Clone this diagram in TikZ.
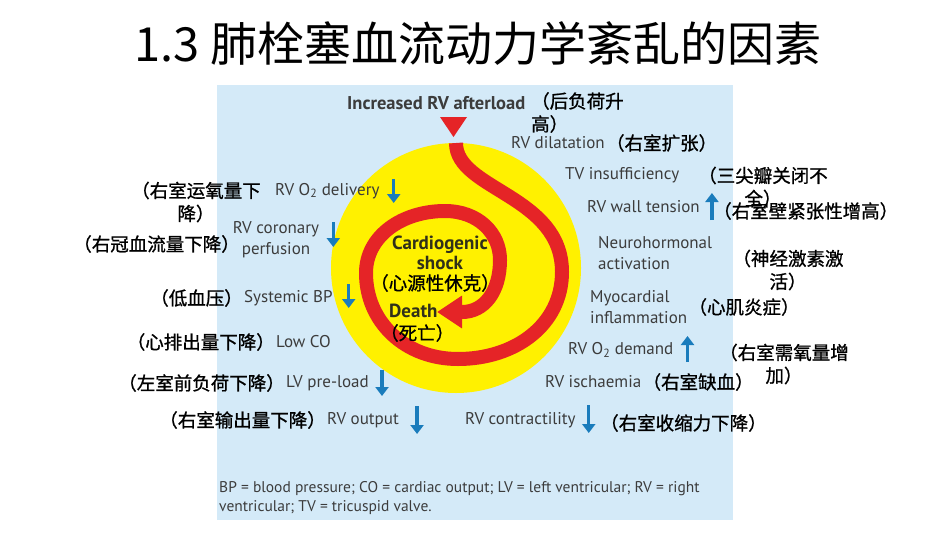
\documentclass[tikz,border=0pt]{standalone}
\usepackage{fontspec}
\setmainfont{PT Sans}
\newfontfamily\cjk[FakeBold=1]{Noto Sans CJK SC}
\newfontfamily\cjktitle{Noto Sans CJK SC}
\usepackage{xcolor}
\definecolor{panel}{HTML}{D4EAF8}
\definecolor{sun}{HTML}{FFF100}
\definecolor{blood}{HTML}{E52427}
\definecolor{ink}{HTML}{3C3C3C}
\definecolor{core}{HTML}{30301A}
\definecolor{trend}{HTML}{1A7CBC}
\usetikzlibrary{positioning, arrows.meta, calc}

\begin{document}
\begin{tikzpicture}[x=1pt, y=-1pt, node distance=1pt]
        % Define block styles
        \tikzstyle{lbl} = [text=ink, font=\fontsize{17}{21}\selectfont, inner sep=0pt, align=left]
        \tikzstyle{key} = [text=core, font=\bfseries\fontsize{19}{20}\selectfont, inner sep=0pt, align=center]
        \tikzstyle{zh} = [text=black, font=\cjk\fontsize{18.5}{23}\selectfont, inner sep=0pt, align=center]
        \tikzstyle{trendarr} = [draw=trend, line width=3.2pt, -{Triangle[length=9pt, width=13pt]}]
        \tikzstyle{spiral} = [draw=blood, line width=14pt, -{Triangle[length=25pt, width=31pt]}]

        \useasboundingbox (0,0) rectangle (950,535);

        % Background
        \fill[panel] (217,85) rectangle (733,520);
        \fill[sun] (456,268) circle (125pt);
        \fill[blood] (440,117) -- (467,117) -- (453.5,137) -- cycle;
        \draw[spiral] (456,143) .. controls (456,190) and (562,195) .. (562,272)
            .. controls (562,325) and (515,359) .. (458,359)
            .. controls (405,359) and (366,322) .. (366,273)
            .. controls (366,236) and (402,211) .. (445,211)
            .. controls (478,211) and (500,233) .. (500,260)
            .. controls (500,292) and (484,312) .. (462,312) -- (437,312);

        % Title
        \node[font=\cjktitle\fontsize{47}{52}\selectfont, inner sep=0pt] (title) at (478,44) {1.3 肺栓塞血流动力学紊乱的因素};

        % Top
        \node[lbl, font=\bfseries\fontsize{18.5}{21}\selectfont, anchor=west] (afterload) at (347,103) {Increased RV afterload};
        \node[zh, align=left, anchor=north west] (afterloadzh) at (531,92) {（后负荷升\\高）};

        % Right side
        \node[lbl, anchor=west] (dilat) at (511,143) {RV dilatation};
        \node[zh, right=of dilat] (dilatzh) {（右室扩张）};
        \node[lbl, anchor=west] (tvins) at (565,175) {TV insufficiency};
        \node[zh] (tvinszh) at (763,187) {（三尖瓣关闭不\\全）};
        \node[lbl, anchor=west] (wall) at (587,207) {RV wall tension};
        \node[zh, anchor=west] (wallzh) at (713,211) {（右室壁紧张性增高）};
        \node[lbl, anchor=west] (neuro) at (598,253) {Neurohormonal\\activation};
        \node[zh] (neurozh) at (788,270) {（神经激素激\\活）};
        \node[lbl, anchor=west] (myo) at (590,307) {Myocardial\\inflammation};
        \node[zh, right=of myo] (myozh) {（心肌炎症）};
        \node[lbl, anchor=west] (demand) at (568,350) {RV O\textsubscript{2} demand};
        \node[zh] (demandzh) at (784,364) {（右室需氧量增\\加）};
        \node[lbl, anchor=west] (isch) at (545,382) {RV ischaemia};
        \node[zh, right=of isch] (ischzh) {（右室缺血）};
        \node[lbl, anchor=west] (contr) at (465,420) {RV contractility};
        \node[zh, anchor=west] (contrzh) at (600,423) {（右室收缩力下降）};

        % Left side
        \node[lbl, anchor=west] (deliv) at (275,191) {RV O\textsubscript{2} delivery};
        \node[zh] (delivzh) at (196,202) {（右室运氧量下\\降）};
        \node[lbl, align=center] (coron) at (276,240) {RV coronary\\perfusion};
        \node[zh, anchor=east] (coronzh) at (240,244) {（右冠血流量下降）};
        \node[lbl, anchor=west] (sysbp) at (244,298) {Systemic BP};
        \node[zh, left=of sysbp] (sysbpzh) {（低血压）};
        \node[lbl, anchor=west] (lowco) at (276,342) {Low CO};
        \node[zh, left=of lowco] (lowcozh) {（心排出量下降）};
        \node[lbl, anchor=west] (lvpre) at (286,383) {LV pre-load};
        \node[zh, left=of lvpre] (lvprezh) {（左室前负荷下降）};
        \node[lbl, anchor=west] (rvout) at (327,420) {RV output};
        \node[zh, left=of rvout] (rvoutzh) {（右室输出量下降）};

        % Centre
        \node[key] (shock) at (440,253) {Cardiogenic\\shock};
        \node[zh] (shockzh) at (435,283) {（心源性休克）};
        \node[key, anchor=west] (death) at (389,311) {Death};
        \node[zh, anchor=west] (deathzh) at (380,333) {（死亡）};

        % Legend
        \node[lbl, font=\fontsize{15.5}{19}\selectfont, anchor=north west] (legend) at (219,481) {BP = blood pressure; CO = cardiac output; LV = left ventricular; RV = right\\ventricular; TV = tricuspid valve.};

        % Arrows
        \draw[trendarr] ($(deliv.east)+(14,-12)$) -- ++(0,24);
        \draw[trendarr] ($(coron.east)+(14,-18)$) -- ++(0,25);
        \draw[trendarr] ($(sysbp.east)+(16,-14)$) -- ++(0,24);
        \draw[trendarr] ($(lvpre.east)+(13,-13)$) -- ++(0,26);
        \draw[trendarr] ($(rvout.east)+(18,-14)$) -- ++(0,28);
        \draw[trendarr] ($(contr.east)+(13,-15)$) -- ++(0,28);
        \draw[trendarr] ($(wall.east)+(12,13)$) -- ++(0,-27);
        \draw[trendarr] ($(demand.east)+(14,12)$) -- ++(0,-26);

    \end{tikzpicture}
\end{document}
